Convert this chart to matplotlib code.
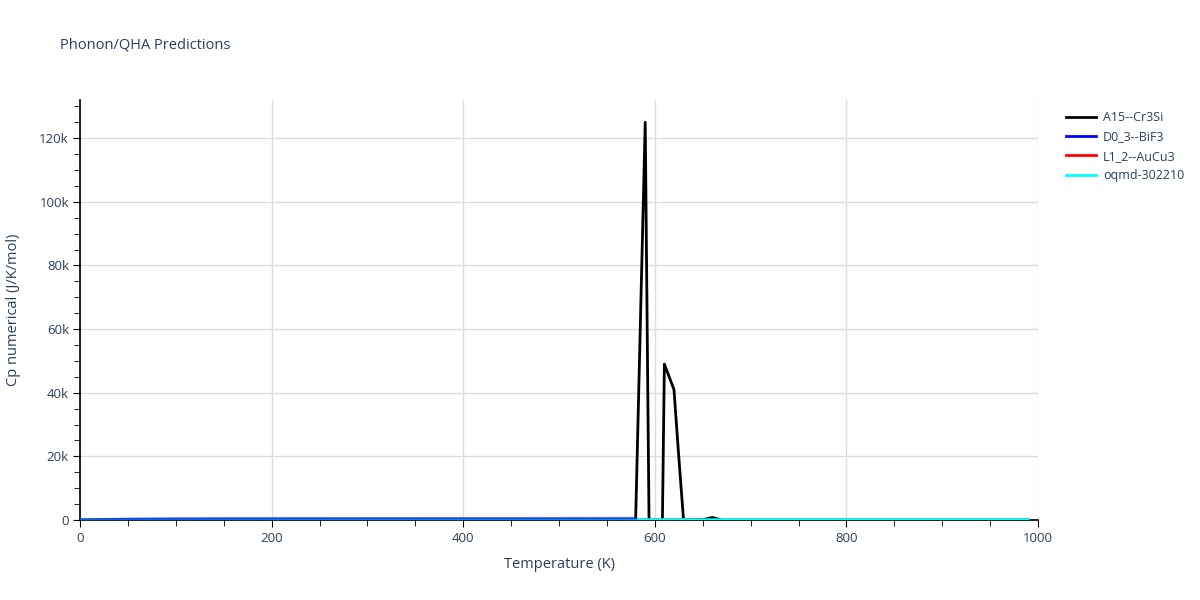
import matplotlib
matplotlib.use("Agg")
import matplotlib.pyplot as plt
from matplotlib.ticker import FuncFormatter, MultipleLocator

plt.rcParams['font.family'] = ['Open Sans', 'DejaVu Sans']

# Temperature grids (K) and Cp values (J/K/mol)
t_a15 = [0, 50, 100, 150, 200, 250, 300, 350, 400, 450, 500, 550, 580, 590, 600,
         610, 620, 625, 630, 640, 650, 660, 670, 700, 750, 800, 850, 900, 950, 990]
cp_a15 = [0, 60, 85, 95, 98, 100, 101, 102, 103, 104, 105, 106, 107, 125000, -190000,
          49000, 41000, 20000, 0, 50, 100, 800, 0, 0, 0, 0, 0, 0, 0, 0]

t_d03 = [0, 50, 100, 150, 200, 250, 300, 350, 400, 450, 500, 550, 580]
cp_d03 = [0, 300, 420, 460, 480, 490, 500, 505, 510, 515, 520, 525, 530]

t_l12 = [0, 50, 100, 150, 200, 250, 300, 350, 400, 450, 500, 550, 600, 650]
cp_l12 = [0, 70, 90, 96, 98, 99, 100, 101, 101, 102, 102, 103, 103, 104]

t_oqmd = [0, 50, 100, 150, 200, 250, 300, 350, 400, 450, 500, 550, 600,
          650, 700, 750, 800, 850, 900, 950, 990]
cp_oqmd = [0, 65, 88, 95, 98, 99, 100, 100, 101, 101, 101, 102, 102,
           102, 102, 103, 103, 103, 103, 104, 104]

text_col = "#2a3f5f"

fig = plt.figure(figsize=(12, 6), dpi=100)
ax = fig.add_axes([80 / 1200, 80 / 600, 958 / 1200, 420 / 600])

ax.plot(t_a15, cp_a15, color="black", lw=2, label="A15--Cr3Si", zorder=5)
ax.plot(t_d03, cp_d03, color="blue", lw=2, label="D0_3--BiF3", zorder=7, alpha=0.6)
ax.plot(t_l12, cp_l12, color="red", lw=2, label="L1_2--AuCu3", zorder=3)
ax.plot(t_oqmd, cp_oqmd, color="cyan", lw=2, label="oqmd-302210", zorder=6)

ax.set_xlim(0, 1000)
ax.set_ylim(0, 132000)

ax.xaxis.set_major_locator(MultipleLocator(200))
ax.xaxis.set_minor_locator(MultipleLocator(50))
ax.yaxis.set_major_locator(MultipleLocator(20000))
ax.yaxis.set_minor_locator(MultipleLocator(5000))
ax.yaxis.set_major_formatter(FuncFormatter(lambda v, p: "0" if v == 0 else f"{int(v / 1000)}k"))

ax.grid(True, which="major", color="#dcdcdc", lw=1)
ax.set_axisbelow(True)
for s in ["top", "right"]:
    ax.spines[s].set_visible(False)
for s in ["left", "bottom"]:
    ax.spines[s].set_color("black")
    ax.spines[s].set_linewidth(1.2)

ax.tick_params(which="major", direction="out", length=5, color="black",
               labelcolor=text_col, labelsize=9.5)
ax.tick_params(which="minor", direction="out", length=4, color="black")
ax.tick_params(axis="x", pad=4)
ax.tick_params(axis="y", pad=3)

ax.set_xlabel("Temperature (K)", color=text_col, fontsize=10.5, labelpad=8)
ax.set_ylabel("Cp numerical (J/K/mol)", color=text_col, fontsize=10.5, labelpad=13)

fig.text(60 / 1200, 1 - 45 / 600, "Phonon/QHA Predictions", color=text_col,
         fontsize=10.5, va="center")

leg = ax.legend(loc="upper left", bbox_to_anchor=(1.017, 1.0), frameon=False,
                fontsize=9, handlelength=2.4, handletextpad=0.6, labelspacing=0.5)
for t in leg.get_texts():
    t.set_color(text_col)
for h in leg.get_lines():
    h.set_alpha(1.0)

fig.savefig("out.png", dpi=100)
